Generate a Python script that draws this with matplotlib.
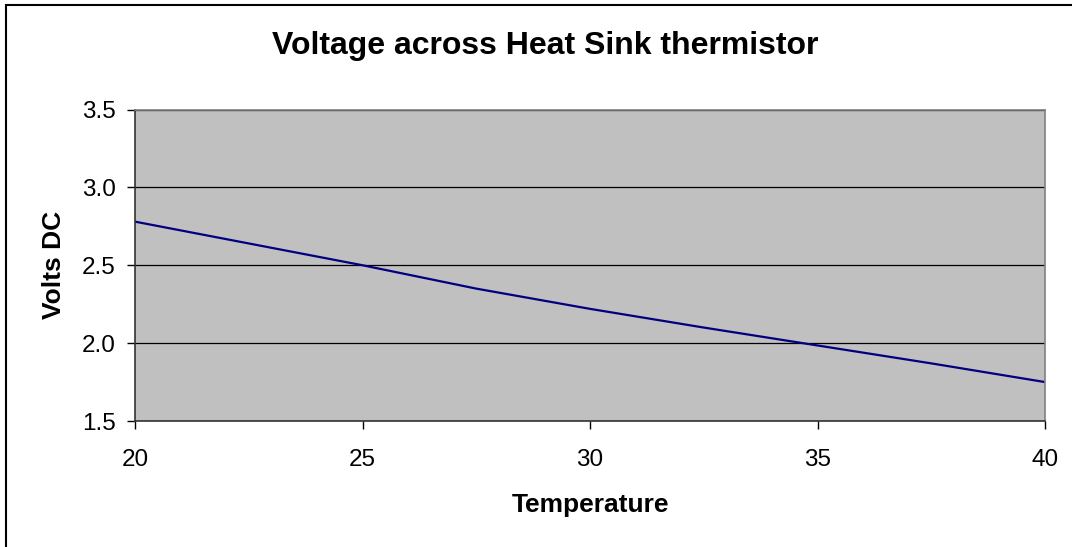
import matplotlib.pyplot as plt
from matplotlib.patches import Rectangle

# temperature vs thermistor voltage
temperature = [20, 22.5, 25, 27.5, 30, 32.5, 35, 37.5, 40]
volts = [2.78, 2.64, 2.50, 2.35, 2.22, 2.10, 1.985, 1.87, 1.75]

x_ticks = [20, 25, 30, 35, 40]
y_ticks = [1.5, 2.0, 2.5, 3.0, 3.5]

plt.rcParams['font.family'] = ['Liberation Sans', 'DejaVu Sans']

fig = plt.figure(figsize=(10.72, 5.47), dpi=100)
fig.patch.set_facecolor('white')
# chart border (Excel style frame)
fig.patches.append(Rectangle((6 / 1072, -0.1), 1.2, 1.1 - 5 / 547,
                             transform=fig.transFigure, fill=False,
                             edgecolor='black', linewidth=1.5))

ax = fig.add_axes([135 / 1072, 1 - 421 / 547, (1045 - 135) / 1072, (421 - 109.5) / 547])
ax.set_facecolor('#c0c0c0')

ax.plot(temperature, volts, color='#000080', linewidth=1.6)

ax.set_xlim(20, 40)
ax.set_ylim(1.5, 3.5)
ax.set_xticks(x_ticks)
ax.set_yticks(y_ticks)
ax.set_yticklabels([f'{v:.1f}' for v in y_ticks])
ax.yaxis.grid(True, color='black', linewidth=0.9)
ax.set_axisbelow(True)

for side in ['top', 'right']:
    ax.spines[side].set_color('#808080')
    ax.spines[side].set_linewidth(1.2)
for side in ['left', 'bottom']:
    ax.spines[side].set_color('#333333')
    ax.spines[side].set_linewidth(1.2)

ax.tick_params(axis='both', direction='out', length=6, width=1, labelsize=17.5)
ax.tick_params(axis='x', pad=14)
ax.tick_params(axis='y', pad=8)

ax.set_xlabel('Temperature', fontsize=19, fontweight='bold', labelpad=16)
ax.set_ylabel('Volts DC', fontsize=19, fontweight='bold', labelpad=11)
fig.text(545 / 1072, 1 - 46 / 547, 'Voltage across Heat Sink thermistor',
         ha='center', va='center', fontsize=23, fontweight='bold')

fig.savefig('out.png', dpi=100)
